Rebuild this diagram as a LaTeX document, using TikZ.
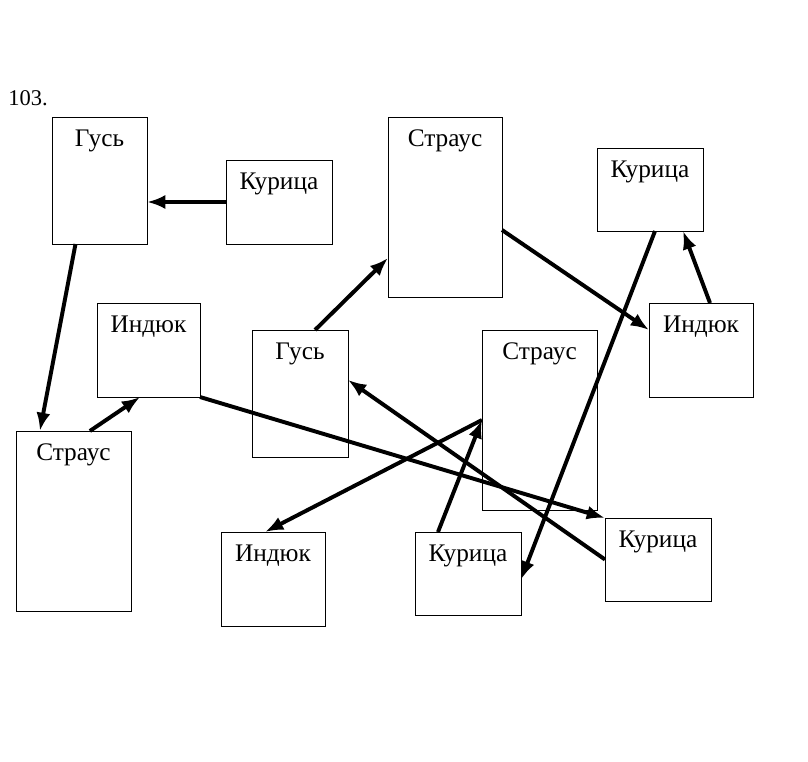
\documentclass[tikz,border=0pt]{standalone}
\usepackage{fontspec}
\setmainfont{Liberation Serif}
\usetikzlibrary{arrows.meta}

\begin{document}
\begin{tikzpicture}[x=0.025cm, y=-0.025cm,
	bird/.style={draw, line width=0.6pt, inner sep=0pt, outer sep=0pt},
	birdname/.style={anchor=north, inner sep=9pt, font=\fontsize{18}{20}\selectfont},
	eats/.style={line width=2.8pt, -{Latex[length=13pt, width=10pt]}}]
	\useasboundingbox (0,0) rectangle (808,762);
	\node[anchor=west, inner sep=0pt, font=\fontsize{16}{18}\selectfont] (num) at (8,98) {103.};
	\node[bird, minimum width=2.375cm, minimum height=3.175cm, label={[birdname]north:Гусь}] (g1) at (99.5,180.5) {};
	\node[bird, minimum width=2.65cm, minimum height=2.1cm, label={[birdname]north:Курица}] (k2) at (279,202) {};
	\node[bird, minimum width=2.85cm, minimum height=4.5cm, label={[birdname]north:Страус}] (s3) at (445,207) {};
	\node[bird, minimum width=2.65cm, minimum height=2.075cm, label={[birdname]north:Курица}] (k4) at (650,189.5) {};
	\node[bird, minimum width=2.575cm, minimum height=2.35cm, label={[birdname]north:Индюк}] (i5) at (148.5,350) {};
	\node[bird, minimum width=2.4cm, minimum height=3.175cm, label={[birdname]north:Гусь}] (g6) at (300,393.5) {};
	\node[bird, minimum width=2.875cm, minimum height=4.5cm, label={[birdname]north:Страус}] (s7) at (539.5,420) {};
	\node[bird, minimum width=2.6cm, minimum height=2.35cm, label={[birdname]north:Индюк}] (i8) at (701,350) {};
	\node[bird, minimum width=2.875cm, minimum height=4.5cm, label={[birdname]north:Страус}] (s9) at (73.5,521) {};
	\node[bird, minimum width=2.6cm, minimum height=2.35cm, label={[birdname]north:Индюк}] (i10) at (273,579) {};
	\node[bird, minimum width=2.65cm, minimum height=2.075cm, label={[birdname]north:Курица}] (k11) at (468,573.5) {};
	\node[bird, minimum width=2.65cm, minimum height=2.075cm, label={[birdname]north:Курица}] (k12) at (658,559.5) {};
	\draw[eats] (k2.west) -- (k2.west -| g1.east);
	\draw[eats] ([xshift=-0.6cm]g1.south) -- ([xshift=-0.84cm]s9.north);
	\draw[eats] ([xshift=0.41cm]s9.north) -- ([xshift=-0.21cm]i5.south);
	\draw[eats] ([xshift=0.375cm]g6.north) -- ([yshift=-1.275cm]s3.west);
	\draw[eats] ([yshift=-0.575cm]s3.east) -- ([yshift=0.5cm]i8.west);
	\draw[eats] ([xshift=0.225cm]i8.north) -- ([xshift=0.825cm]k4.south);
	\draw[eats] ([xshift=0.125cm]k4.south) -- ([yshift=-0.15cm]k11.east);
	\draw[eats] (i5.south east) -- (k12.north west);
	\draw[eats] (k12.west) -- ([yshift=0.34cm]g6.east);
	\draw[eats] (s7.west) -- ([xshift=-0.2cm]i10.north);
	\draw[eats] ([xshift=-0.75cm]k11.north) -- (s7.west);
\end{tikzpicture}
\end{document}
